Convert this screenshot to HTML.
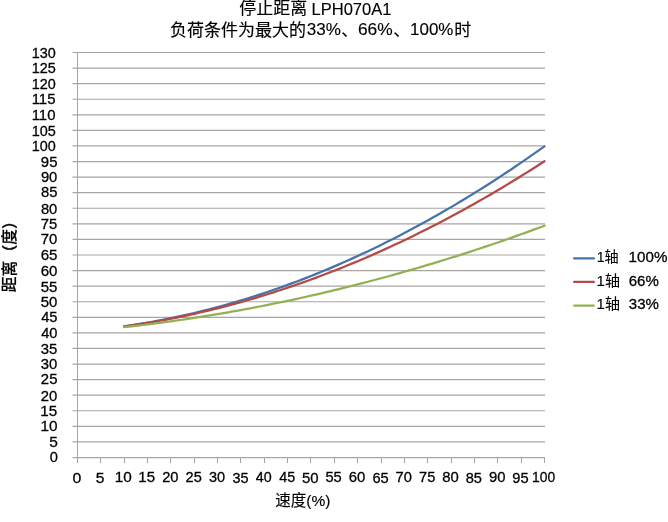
<!DOCTYPE html>
<html><head><meta charset="utf-8"><title>停止距离 LPH070A1</title>
<style>
html,body{margin:0;padding:0;background:#fff;}
body{width:668px;height:522px;overflow:hidden;}
svg{display:block;will-change:transform;}
.g{stroke:#a8a5a3;stroke-width:1.2;}
.a{stroke:#a5a3a3;stroke-width:1;}
text{font-family:"Liberation Sans","Noto Sans CJK SC",sans-serif;fill:#000;stroke:#000;stroke-width:0.3px;}
.l{font-size:15px;stroke-width:0.12px;}
.h{stroke-width:0.15px;}
.xt{stroke-width:0.15px;}
.yt{stroke-width:0.2px;}
.t{font-size:15px;}
.h{font-size:17px;}
.xt{font-size:15.5px;}
.yt{font-size:15.8px;font-weight:500;}
</style></head><body>
<svg width="668" height="522" viewBox="0 0 668 522">
<line x1="72.5" y1="441.92" x2="545" y2="441.92" class="g"/>
<line x1="72.5" y1="426.35" x2="545" y2="426.35" class="g"/>
<line x1="72.5" y1="410.77" x2="545" y2="410.77" class="g"/>
<line x1="72.5" y1="395.19" x2="545" y2="395.19" class="g"/>
<line x1="72.5" y1="379.62" x2="545" y2="379.62" class="g"/>
<line x1="72.5" y1="364.04" x2="545" y2="364.04" class="g"/>
<line x1="72.5" y1="348.46" x2="545" y2="348.46" class="g"/>
<line x1="72.5" y1="332.88" x2="545" y2="332.88" class="g"/>
<line x1="72.5" y1="317.31" x2="545" y2="317.31" class="g"/>
<line x1="72.5" y1="301.73" x2="545" y2="301.73" class="g"/>
<line x1="72.5" y1="286.15" x2="545" y2="286.15" class="g"/>
<line x1="72.5" y1="270.58" x2="545" y2="270.58" class="g"/>
<line x1="72.5" y1="255.00" x2="545" y2="255.00" class="g"/>
<line x1="72.5" y1="239.42" x2="545" y2="239.42" class="g"/>
<line x1="72.5" y1="223.85" x2="545" y2="223.85" class="g"/>
<line x1="72.5" y1="208.27" x2="545" y2="208.27" class="g"/>
<line x1="72.5" y1="192.69" x2="545" y2="192.69" class="g"/>
<line x1="72.5" y1="177.12" x2="545" y2="177.12" class="g"/>
<line x1="72.5" y1="161.54" x2="545" y2="161.54" class="g"/>
<line x1="72.5" y1="145.96" x2="545" y2="145.96" class="g"/>
<line x1="72.5" y1="130.38" x2="545" y2="130.38" class="g"/>
<line x1="72.5" y1="114.81" x2="545" y2="114.81" class="g"/>
<line x1="72.5" y1="99.23" x2="545" y2="99.23" class="g"/>
<line x1="72.5" y1="83.65" x2="545" y2="83.65" class="g"/>
<line x1="72.5" y1="68.08" x2="545" y2="68.08" class="g"/>
<line x1="72.5" y1="52.50" x2="545" y2="52.50" class="g"/>
<line x1="72.5" y1="457.60" x2="545" y2="457.60" class="g"/>
<line x1="77.5" y1="52" x2="77.5" y2="463" class="a"/>
<line x1="100.50" y1="458" x2="100.50" y2="463" class="a"/>
<line x1="124.50" y1="458" x2="124.50" y2="463" class="a"/>
<line x1="147.50" y1="458" x2="147.50" y2="463" class="a"/>
<line x1="170.50" y1="458" x2="170.50" y2="463" class="a"/>
<line x1="194.50" y1="458" x2="194.50" y2="463" class="a"/>
<line x1="217.50" y1="458" x2="217.50" y2="463" class="a"/>
<line x1="240.50" y1="458" x2="240.50" y2="463" class="a"/>
<line x1="264.50" y1="458" x2="264.50" y2="463" class="a"/>
<line x1="287.50" y1="458" x2="287.50" y2="463" class="a"/>
<line x1="310.50" y1="458" x2="310.50" y2="463" class="a"/>
<line x1="334.50" y1="458" x2="334.50" y2="463" class="a"/>
<line x1="357.50" y1="458" x2="357.50" y2="463" class="a"/>
<line x1="381.50" y1="458" x2="381.50" y2="463" class="a"/>
<line x1="404.50" y1="458" x2="404.50" y2="463" class="a"/>
<line x1="427.50" y1="458" x2="427.50" y2="463" class="a"/>
<line x1="451.50" y1="458" x2="451.50" y2="463" class="a"/>
<line x1="474.50" y1="458" x2="474.50" y2="463" class="a"/>
<line x1="497.50" y1="458" x2="497.50" y2="463" class="a"/>
<line x1="521.50" y1="458" x2="521.50" y2="463" class="a"/>
<line x1="544.50" y1="458" x2="544.50" y2="463" class="a"/>
<polyline points="124.20,326.24 128.87,325.57 133.54,324.86 138.21,324.13 142.88,323.36 147.55,322.57 152.22,321.74 156.89,320.89 161.56,320.00 166.23,319.09 170.90,318.14 175.57,317.17 180.24,316.17 184.91,315.14 189.58,314.07 194.25,312.98 198.92,311.86 203.59,310.71 208.26,309.52 212.93,308.31 217.60,307.07 222.27,305.80 226.94,304.50 231.61,303.17 236.28,301.81 240.95,300.42 245.62,299.00 250.29,297.55 254.96,296.07 259.63,294.57 264.30,293.03 268.97,291.46 273.64,289.86 278.31,288.23 282.98,286.58 287.65,284.89 292.32,283.17 296.99,281.43 301.66,279.65 306.33,277.84 311.00,276.01 315.67,274.14 320.34,272.25 325.01,270.32 329.68,268.37 334.35,266.38 339.02,264.37 343.69,262.33 348.36,260.25 353.03,258.15 357.70,256.02 362.37,253.85 367.04,251.66 371.71,249.44 376.38,247.19 381.05,244.90 385.72,242.59 390.39,240.25 395.06,237.88 399.73,235.48 404.40,233.05 409.07,230.59 413.74,228.10 418.41,225.58 423.08,223.03 427.75,220.45 432.42,217.84 437.09,215.20 441.76,212.54 446.43,209.84 451.10,207.11 455.77,204.35 460.44,201.57 465.11,198.75 469.78,195.90 474.45,193.03 479.12,190.12 483.79,187.18 488.46,184.22 493.13,181.22 497.80,178.20 502.47,175.14 507.14,172.06 511.81,168.95 516.48,165.80 521.15,162.63 525.82,159.42 530.49,156.19 535.16,152.93 539.83,149.64 544.50,146.31" fill="none" stroke="#4573aa" stroke-width="2.25" stroke-linecap="round" stroke-linejoin="round"/>
<polyline points="124.20,326.46 128.87,325.80 133.54,325.12 138.21,324.41 142.88,323.67 147.55,322.91 152.22,322.12 156.89,321.31 161.56,320.46 166.23,319.60 170.90,318.70 175.57,317.78 180.24,316.83 184.91,315.86 189.58,314.86 194.25,313.83 198.92,312.77 203.59,311.69 208.26,310.59 212.93,309.45 217.60,308.29 222.27,307.11 226.94,305.89 231.61,304.65 236.28,303.39 240.95,302.10 245.62,300.78 250.29,299.43 254.96,298.06 259.63,296.66 264.30,295.24 268.97,293.79 273.64,292.31 278.31,290.80 282.98,289.27 287.65,287.72 292.32,286.13 296.99,284.52 301.66,282.89 306.33,281.22 311.00,279.53 315.67,277.82 320.34,276.07 325.01,274.30 329.68,272.51 334.35,270.69 339.02,268.84 343.69,266.96 348.36,265.06 353.03,263.13 357.70,261.18 362.37,259.20 367.04,257.19 371.71,255.16 376.38,253.10 381.05,251.01 385.72,248.90 390.39,246.76 395.06,244.59 399.73,242.40 404.40,240.18 409.07,237.93 413.74,235.66 418.41,233.36 423.08,231.03 427.75,228.68 432.42,226.30 437.09,223.90 441.76,221.47 446.43,219.01 451.10,216.53 455.77,214.01 460.44,211.48 465.11,208.91 469.78,206.32 474.45,203.71 479.12,201.06 483.79,198.39 488.46,195.70 493.13,192.97 497.80,190.23 502.47,187.45 507.14,184.65 511.81,181.82 516.48,178.96 521.15,176.08 525.82,173.17 530.49,170.24 535.16,167.28 539.83,164.29 544.50,161.28" fill="none" stroke="#b44a48" stroke-width="2.25" stroke-linecap="round" stroke-linejoin="round"/>
<polyline points="124.20,327.17 128.87,326.65 133.54,326.11 138.21,325.56 142.88,325.00 147.55,324.42 152.22,323.83 156.89,323.23 161.56,322.61 166.23,321.98 170.90,321.34 175.57,320.68 180.24,320.01 184.91,319.32 189.58,318.62 194.25,317.91 198.92,317.18 203.59,316.44 208.26,315.69 212.93,314.92 217.60,314.14 222.27,313.35 226.94,312.54 231.61,311.72 236.28,310.89 240.95,310.04 245.62,309.17 250.29,308.30 254.96,307.41 259.63,306.51 264.30,305.59 268.97,304.66 273.64,303.72 278.31,302.76 282.98,301.79 287.65,300.80 292.32,299.81 296.99,298.79 301.66,297.77 306.33,296.73 311.00,295.68 315.67,294.61 320.34,293.53 325.01,292.44 329.68,291.33 334.35,290.21 339.02,289.08 343.69,287.93 348.36,286.77 353.03,285.59 357.70,284.41 362.37,283.20 367.04,281.99 371.71,280.76 376.38,279.52 381.05,278.26 385.72,276.99 390.39,275.71 395.06,274.41 399.73,273.10 404.40,271.78 409.07,270.44 413.74,269.09 418.41,267.72 423.08,266.34 427.75,264.95 432.42,263.55 437.09,262.13 441.76,260.69 446.43,259.25 451.10,257.79 455.77,256.31 460.44,254.82 465.11,253.32 469.78,251.81 474.45,250.28 479.12,248.74 483.79,247.18 488.46,245.62 493.13,244.03 497.80,242.44 502.47,240.83 507.14,239.20 511.81,237.57 516.48,235.92 521.15,234.25 525.82,232.58 530.49,230.88 535.16,229.18 539.83,227.46 544.50,225.73" fill="none" stroke="#93b154" stroke-width="2.25" stroke-linecap="round" stroke-linejoin="round"/>
<line x1="574.1" y1="258.4" x2="593.9" y2="258.4" stroke="#4573aa" stroke-width="2.25" stroke-linecap="round"/>
<line x1="574.1" y1="281.95" x2="593.9" y2="281.95" stroke="#b44a48" stroke-width="2.25" stroke-linecap="round"/>
<line x1="574.1" y1="305.6" x2="593.9" y2="305.6" stroke="#93b154" stroke-width="2.25" stroke-linecap="round"/>
<text id="y0" x="49.67" y="462.32" class="t" textLength="8.14" lengthAdjust="spacingAndGlyphs">0</text>
<text id="y5" x="49.16" y="446.94" class="t" textLength="8.59" lengthAdjust="spacingAndGlyphs">5</text>
<text id="y10" x="40.40" y="431.24" class="t" textLength="17.06" lengthAdjust="spacingAndGlyphs">10</text>
<text id="y15" x="40.38" y="416.06" class="t" textLength="16.95" lengthAdjust="spacingAndGlyphs">15</text>
<text id="y20" x="40.86" y="400.53" class="t" textLength="16.52" lengthAdjust="spacingAndGlyphs">20</text>
<text id="y25" x="40.86" y="384.37" class="t" textLength="16.56" lengthAdjust="spacingAndGlyphs">25</text>
<text id="y30" x="40.82" y="369.16" class="t" textLength="16.53" lengthAdjust="spacingAndGlyphs">30</text>
<text id="y35" x="40.82" y="353.93" class="t" textLength="16.58" lengthAdjust="spacingAndGlyphs">35</text>
<text id="y40" x="41.19" y="338.49" class="t" textLength="16.28" lengthAdjust="spacingAndGlyphs">40</text>
<text id="y45" x="41.18" y="322.17" class="t" textLength="16.33" lengthAdjust="spacingAndGlyphs">45</text>
<text id="y50" x="40.79" y="306.90" class="t" textLength="16.64" lengthAdjust="spacingAndGlyphs">50</text>
<text id="y55" x="40.78" y="291.52" class="t" textLength="16.69" lengthAdjust="spacingAndGlyphs">55</text>
<text id="y60" x="40.73" y="276.07" class="t" textLength="16.76" lengthAdjust="spacingAndGlyphs">60</text>
<text id="y65" x="40.73" y="259.88" class="t" textLength="16.80" lengthAdjust="spacingAndGlyphs">65</text>
<text id="y70" x="40.84" y="244.33" class="t" textLength="16.57" lengthAdjust="spacingAndGlyphs">70</text>
<text id="y75" x="40.84" y="228.99" class="t" textLength="16.49" lengthAdjust="spacingAndGlyphs">75</text>
<text id="y80" x="40.94" y="213.84" class="t" textLength="16.37" lengthAdjust="spacingAndGlyphs">80</text>
<text id="y85" x="40.94" y="197.49" class="t" textLength="16.42" lengthAdjust="spacingAndGlyphs">85</text>
<text id="y90" x="40.88" y="181.96" class="t" textLength="16.43" lengthAdjust="spacingAndGlyphs">90</text>
<text id="y95" x="40.87" y="166.78" class="t" textLength="16.62" lengthAdjust="spacingAndGlyphs">95</text>
<text id="y100" x="31.70" y="151.00" class="t" textLength="24.02" lengthAdjust="spacingAndGlyphs">100</text>
<text id="y105" x="31.66" y="135.83" class="t" textLength="24.10" lengthAdjust="spacingAndGlyphs">105</text>
<text id="y110" x="31.68" y="120.48" class="t" textLength="23.78" lengthAdjust="spacingAndGlyphs">110</text>
<text id="y115" x="31.67" y="104.14" class="t" textLength="23.83" lengthAdjust="spacingAndGlyphs">115</text>
<text id="y120" x="31.70" y="88.61" class="t" textLength="24.02" lengthAdjust="spacingAndGlyphs">120</text>
<text id="y125" x="31.66" y="73.45" class="t" textLength="24.10" lengthAdjust="spacingAndGlyphs">125</text>
<text id="y130" x="31.70" y="57.92" class="t" textLength="24.02" lengthAdjust="spacingAndGlyphs">130</text>
<text id="x0" x="72.52" y="482.58" class="t" textLength="8.80" lengthAdjust="spacingAndGlyphs">0</text>
<text id="x5" x="95.77" y="482.55" class="t" textLength="8.64" lengthAdjust="spacingAndGlyphs">5</text>
<text id="x10" x="114.85" y="482.30" class="t" textLength="17.04" lengthAdjust="spacingAndGlyphs">10</text>
<text id="x15" x="138.32" y="482.30" class="t" textLength="16.68" lengthAdjust="spacingAndGlyphs">15</text>
<text id="x20" x="162.20" y="482.11" class="t" textLength="16.36" lengthAdjust="spacingAndGlyphs">20</text>
<text id="x25" x="185.53" y="482.30" class="t" textLength="16.23" lengthAdjust="spacingAndGlyphs">25</text>
<text id="x30" x="208.90" y="482.39" class="t" textLength="16.15" lengthAdjust="spacingAndGlyphs">30</text>
<text id="x35" x="232.38" y="482.51" class="t" textLength="16.03" lengthAdjust="spacingAndGlyphs">35</text>
<text id="x40" x="255.81" y="482.30" class="t" textLength="15.89" lengthAdjust="spacingAndGlyphs">40</text>
<text id="x45" x="279.24" y="482.41" class="t" textLength="15.95" lengthAdjust="spacingAndGlyphs">45</text>
<text id="x50" x="301.96" y="482.56" class="t" textLength="16.61" lengthAdjust="spacingAndGlyphs">50</text>
<text id="x55" x="325.45" y="482.49" class="t" textLength="16.35" lengthAdjust="spacingAndGlyphs">55</text>
<text id="x60" x="348.83" y="482.35" class="t" textLength="16.55" lengthAdjust="spacingAndGlyphs">60</text>
<text id="x65" x="372.41" y="482.52" class="t" textLength="16.26" lengthAdjust="spacingAndGlyphs">65</text>
<text id="x70" x="395.53" y="482.40" class="t" textLength="16.33" lengthAdjust="spacingAndGlyphs">70</text>
<text id="x75" x="419.12" y="482.32" class="t" textLength="16.20" lengthAdjust="spacingAndGlyphs">75</text>
<text id="x80" x="442.16" y="482.47" class="t" textLength="16.52" lengthAdjust="spacingAndGlyphs">80</text>
<text id="x85" x="465.66" y="482.54" class="t" textLength="16.27" lengthAdjust="spacingAndGlyphs">85</text>
<text id="x90" x="488.97" y="482.47" class="t" textLength="16.49" lengthAdjust="spacingAndGlyphs">90</text>
<text id="x95" x="512.36" y="482.51" class="t" textLength="16.29" lengthAdjust="spacingAndGlyphs">95</text>
<text id="x100" x="532.12" y="482.16" class="t" textLength="23.08" lengthAdjust="spacingAndGlyphs">100</text>
<text id="t1a" x="239.19" y="13.60" class="h">停止距离</text>
<text id="t1b" x="311.52" y="14.60" class="h" textLength="79.89" lengthAdjust="spacingAndGlyphs">LPH070A1</text>
<text id="t2a" x="170.10" y="36.04" class="h">负荷条件为最大的</text>
<text id="t2b" x="306.80" y="35.29" class="h" textLength="34.12" lengthAdjust="spacingAndGlyphs">33%</text>
<text id="t2c" x="341.37" y="35.50" class="h">、</text>
<text id="t2d" x="357.94" y="35.20" class="h" textLength="34.78" lengthAdjust="spacingAndGlyphs">66%</text>
<text id="t2e" x="393.15" y="35.50" class="h">、</text>
<text id="t2f" x="410.01" y="35.26" class="h" textLength="43.42" lengthAdjust="spacingAndGlyphs">100%</text>
<text id="t2g" x="454.32" y="35.50" class="h">时</text>
<text id="xt" x="275.32" y="505.55" class="xt">速度(%)</text>
<text id="yt" transform="translate(9.00,252.70) rotate(-90)" text-anchor="middle" dominant-baseline="central" class="yt">距离（度）</text>
<text id="la0" x="596.64" y="262.09" class="l" textLength="21.93" lengthAdjust="spacingAndGlyphs">1轴</text>
<text id="lb0" x="628.64" y="262.09" class="t" textLength="38.83" lengthAdjust="spacingAndGlyphs">100%</text>
<text id="la1" x="596.58" y="285.78" class="l" textLength="23.40" lengthAdjust="spacingAndGlyphs">1轴</text>
<text id="lb1" x="628.73" y="285.78" class="t" textLength="30.05" lengthAdjust="spacingAndGlyphs">66%</text>
<text id="la2" x="596.58" y="308.78" class="l" textLength="23.40" lengthAdjust="spacingAndGlyphs">1轴</text>
<text id="lb2" x="628.80" y="308.78" class="t" textLength="30.06" lengthAdjust="spacingAndGlyphs">33%</text>
</svg>
</body></html>
